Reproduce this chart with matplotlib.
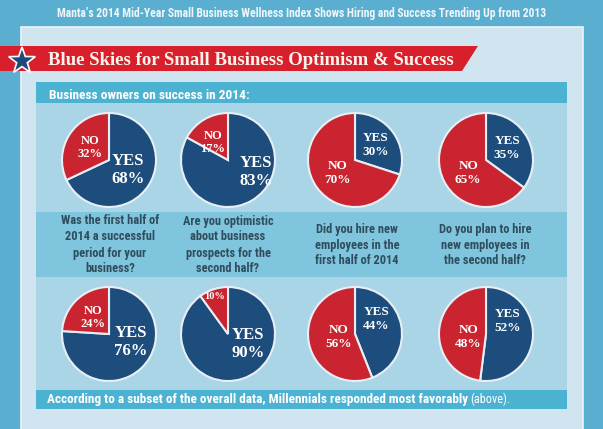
import numpy as np
import matplotlib
matplotlib.use('Agg')
import matplotlib.pyplot as plt
from matplotlib import font_manager
from matplotlib.patches import Rectangle, Polygon

W, H = 603, 429

questions = ['Was the first half of\n2014 a successful\nperiod for your\nbusiness?',
             'Are you optimistic\nabout business\nprospects for the\nsecond half?',
             'Did you hire new\nemployees in the\nfirst half of 2014',
             'Do you plan to hire\nnew employees in\nthe second half?']
yes_2014 = [68, 83, 30, 35]
no_2014 = [32, 17, 70, 65]
yes_millennials = [76, 90, 44, 52]
no_millennials = [24, 10, 56, 48]

subtitle = "Manta\u2019s 2014 Mid-Year Small Business Wellness Index Shows Hiring and Success Trending Up from 2013"
title = 'Blue Skies for Small Business Optimism & Success'
header = 'Business owners on success in 2014:'
footer = 'According to a subset of the overall data, Millennials responded most favorably'
footer_tail = '(above).'

# layout (pixels)
pie_x = [109, 228, 355, 486]
row_y = [160, 334]
pie_r = 47
# label placement inside each pie: (dx, dy, fontsize) in pie radius units
label_pos = [
    [(0.40, -0.21, 12), (0.60, -0.26, 12), (0.43, 0.32, 9.5), (0.45, 0.26, 9.5)],
    [(0.47, -0.17, 12), (0.43, -0.21, 12), (0.45, 0.32, 9.5), (0.45, 0.28, 9.5)],
]
no_pos = [
    [(-0.40, 0.26, 9), (-0.32, 0.38, 9), (-0.38, -0.28, 9.5), (-0.38, -0.28, 9.5)],
    [(-0.34, 0.36, 9), (-0.28, 0.79, 7.5), (-0.34, -0.06, 9.5), (-0.38, -0.06, 9.5)],
]

BLUE = '#1c4d7d'
RED = '#c9242f'

names = {f.name for f in font_manager.fontManager.ttflist}
cond = next((n for n in ['Liberation Sans Narrow', 'DejaVu Sans Condensed', 'Roboto Condensed',
                         'Open Sans Condensed', 'Lato'] if n in names), 'DejaVu Sans')
serif = 'Liberation Serif' if 'Liberation Serif' in names else 'DejaVu Serif'

fig = plt.figure(figsize=(W / 100, H / 100), dpi=100)
fig.patch.set_facecolor('#5aafd0')
ax = fig.add_axes([0, 0, 1, 1])
ax.set_xlim(0, W)
ax.set_ylim(H, 0)
ax.axis('off')

# panels and bands
ax.add_patch(Rectangle((21, 27), 562, 410, fc='#d0e5ef', ec='#eaf4f9', lw=1.2))
ax.add_patch(Rectangle((36, 82), 531, 327, fc='#a9d5e7', ec='none'))
ax.add_patch(Rectangle((36, 82), 531, 21, fc='#4cb2d2', ec='none'))
ax.add_patch(Rectangle((36, 212), 531, 65, fc='#7fc5dd', ec='none'))
ax.add_patch(Rectangle((36, 390), 531, 19, fc='#4cb2d2', ec='none'))

# red banner with star
ax.add_patch(Polygon([(0, 46), (478, 46), (462, 71), (0, 71)], closed=True, fc='#d8202c', ec='none'))
ang = np.radians(90 + np.arange(10) * 36)
rad = np.where(np.arange(10) % 2 == 0, 14, 5.6)
ax.add_patch(Polygon(np.column_stack([22 + rad * np.cos(ang), 61 - rad * np.sin(ang)]),
                     closed=True, fc='#1d4a7a', ec='white', lw=1.2))

renderer = fig.canvas.get_renderer()


def fit_width(txt, width_px):
    w = txt.get_window_extent(renderer).width
    txt.set_fontsize(txt.get_fontsize() * width_px / w)
    return txt


t = ax.text(302, 17, subtitle, ha='center', va='baseline', color='#eef6fa',
            fontsize=9, fontweight='bold', family=cond)
fit_width(t, 491)
t = ax.text(48, 65, title, ha='left', va='baseline', color='#fdf3ec',
            fontsize=13, fontweight='bold', family=serif)
fit_width(t, 404)
t = ax.text(49, 99, header, ha='left', va='baseline', color='white',
            fontsize=8.5, fontweight='bold', family=cond)
fit_width(t, 199)
t = ax.text(47, 403, footer, ha='left', va='baseline', color='white',
            fontsize=8.5, fontweight='bold', family=cond)
fit_width(t, 419)
ax.text(470, 403, footer_tail, ha='left', va='baseline', color='white',
        fontsize=t.get_fontsize() * 0.92, family=cond)

# questions
q_x = [110, 228, 357, 485]
qs = []
for i, q in enumerate(questions):
    qs.append(ax.text(q_x[i], 245, q, ha='center', va='center', color='#2f4d5c',
                      fontsize=8, fontweight='bold', family=cond, linespacing=1.3))
fit_width(qs[0], 98)
for q in qs[1:]:
    q.set_fontsize(qs[0].get_fontsize())


def two_line(pax, x, y, top, bottom, fs):
    h = fs * 0.0155  # half the line gap, in radius units
    kw = dict(ha='center', va='center', color='white', fontsize=fs,
              fontweight='bold', family=serif)
    pax.text(x, y + h, top, **kw)
    pax.text(x, y - h, bottom, **kw)


# pies
rows = [(yes_2014, no_2014), (yes_millennials, no_millennials)]
for r, (yes_vals, no_vals) in enumerate(rows):
    cy = row_y[r]
    for i in range(4):
        cx = pie_x[i]
        pax = fig.add_axes([(cx - pie_r) / W, 1 - (cy + pie_r) / H, 2 * pie_r / W, 2 * pie_r / H])
        wedges, _ = pax.pie([yes_vals[i], no_vals[i]], colors=[BLUE, RED], startangle=90,
                            counterclock=False, radius=1,
                            wedgeprops=dict(edgecolor='#e8eef3', linewidth=1.5))
        for w in wedges:
            w.set_clip_on(False)
        pax.set_xlim(-1, 1)
        pax.set_ylim(-1, 1)
        pax.set_aspect('equal')
        pax.axis('off')
        dx, dy, fs = label_pos[r][i]
        two_line(pax, dx, dy, 'YES', '%d%%' % yes_vals[i], fs)
        dx, dy, fs = no_pos[r][i]
        if no_vals[i] >= 15:
            two_line(pax, dx, dy, 'NO', '%d%%' % no_vals[i], fs)
        else:
            pax.text(dx, dy, '%d%%' % no_vals[i], ha='center', va='center', color='white',
                     fontsize=fs, fontweight='bold', family=serif)

fig.savefig('out.png', dpi=100, facecolor=fig.get_facecolor())
